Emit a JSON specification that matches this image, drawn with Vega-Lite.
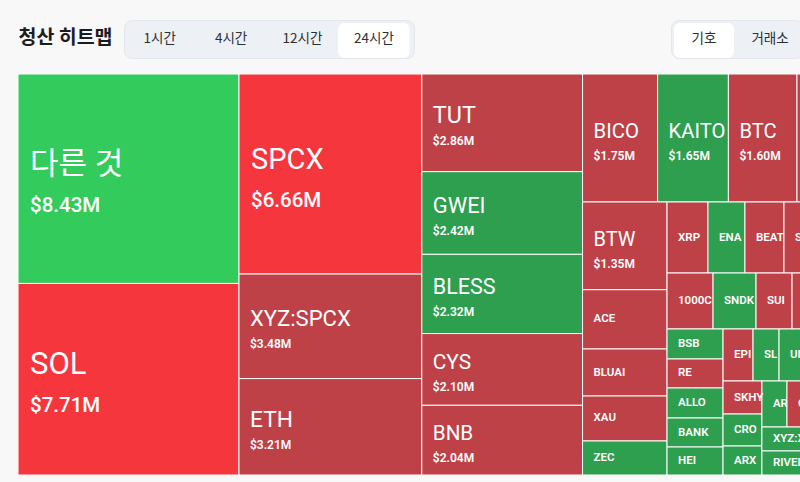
{
  "$schema": "https://vega.github.io/schema/vega-lite/v6.json",
  "background": "#f8f8f9",
  "padding": {"left": 18, "top": 19, "right": 0, "bottom": 9},
  "config": {"view": {"stroke": null}, "font": "Roboto, 'Noto Sans CJK KR', sans-serif"},
  "spacing": 15,
  "vconcat": [
    {
      "spacing": 255,
      "hconcat": [
        {
          "spacing": 10,
          "hconcat": [
            {
              "width": 95,
              "height": 38,
              "data": {"values": [{"title": "청산 히트맵"}]},
              "mark": {"type": "text", "font": "'Noto Sans CJK KR', sans-serif", "fontWeight": "bold", "fontSize": 19.5, "color": "#1c1c1f", "dy": -1.5},
              "encoding": {"text": {"field": "title"}}
            },
            {
              "width": 290,
              "height": 38,
              "view": {"fill": "#edf0f4", "cornerRadius": 8, "stroke": "#e3e6eb"},
              "data": {"values": [
                {"label": "1시간", "active": false},
                {"label": "4시간", "active": false},
                {"label": "12시간", "active": false},
                {"label": "24시간", "active": true}
              ]},
              "encoding": {
                "x": {"field": "label", "type": "nominal", "sort": null, "scale": {"domain": ["1시간", "4시간", "12시간", "24시간"], "paddingInner": 0, "paddingOuter": 0.031, "align": 0}, "axis": null}
              },
              "layer": [
                {
                  "transform": [{"filter": "datum.active"}],
                  "mark": {"type": "rect", "fill": "#ffffff", "cornerRadius": 6, "yOffset": 3, "y2Offset": -3}
                },
                {
                  "mark": {"type": "text", "font": "'Noto Sans CJK KR', sans-serif", "fontSize": 13.5, "color": "#2b2f36"},
                  "encoding": {"text": {"field": "label"}}
                }
              ]
            }
          ]
        },
        {
          "width": 132,
          "height": 38,
          "view": {"fill": "#edf0f4", "cornerRadius": 8, "stroke": "#e3e6eb"},
          "data": {"values": [
            {"label": "기호", "active": true},
            {"label": "거래소", "active": false}
          ]},
          "encoding": {
            "x": {"field": "label", "type": "nominal", "sort": null, "scale": {"domain": ["기호", "거래소"], "paddingInner": 0.09, "paddingOuter": 0.045}, "axis": null}
          },
          "layer": [
            {
              "transform": [{"filter": "datum.active"}],
              "mark": {"type": "rect", "fill": "#ffffff", "cornerRadius": 6, "yOffset": 3, "y2Offset": -3}
            },
            {
              "mark": {"type": "text", "font": "'Noto Sans CJK KR', sans-serif", "fontSize": 13.5, "color": "#2b2f36"},
              "encoding": {"text": {"field": "label"}}
            }
          ]
        }
      ]
    },
    {
      "width": 782,
      "height": 401,
      "data": {"values": [
        {"name": "다른 것", "value": 8.43, "tone": "strong-up", "x0": 0, "x1": 16.14, "y0": 0, "y1": 0.5223},
        {"name": "SOL", "value": 7.71, "tone": "strong-down", "x0": 0, "x1": 16.14, "y0": 0.5223, "y1": 1},
        {"name": "SPCX", "value": 6.66, "tone": "strong-down", "x0": 16.14, "x1": 29.49, "y0": 0, "y1": 0.4989},
        {"name": "XYZ:SPCX", "value": 3.48, "tone": "down", "x0": 16.14, "x1": 29.49, "y0": 0.4989, "y1": 0.7596},
        {"name": "ETH", "value": 3.21, "tone": "down", "x0": 16.14, "x1": 29.49, "y0": 0.7596, "y1": 1},
        {"name": "TUT", "value": 2.86, "tone": "down", "x0": 29.49, "x1": 41.23, "y0": 0, "y1": 0.2436},
        {"name": "GWEI", "value": 2.42, "tone": "up", "x0": 29.49, "x1": 41.23, "y0": 0.2436, "y1": 0.4497},
        {"name": "BLESS", "value": 2.32, "tone": "up", "x0": 29.49, "x1": 41.23, "y0": 0.4497, "y1": 0.6473},
        {"name": "CYS", "value": 2.10, "tone": "down", "x0": 29.49, "x1": 41.23, "y0": 0.6473, "y1": 0.8262},
        {"name": "BNB", "value": 2.04, "tone": "down", "x0": 29.49, "x1": 41.23, "y0": 0.8262, "y1": 1},
        {"name": "BICO", "value": 1.75, "tone": "down", "x0": 41.23, "x1": 46.71, "y0": 0, "y1": 0.3192},
        {"name": "KAITO", "value": 1.65, "tone": "up", "x0": 46.71, "x1": 51.88, "y0": 0, "y1": 0.3192},
        {"name": "BTC", "value": 1.60, "tone": "down", "x0": 51.88, "x1": 56.89, "y0": 0, "y1": 0.3192},
        {"name": "HYPE", "value": 1.55, "tone": "down", "x0": 56.89, "x1": 61.75, "y0": 0, "y1": 0.3192},
        {"name": "BTW", "value": 1.35, "tone": "down", "x0": 41.23, "x1": 47.40, "y0": 0.3192, "y1": 0.5380},
        {"name": "ACE", "value": 0.91, "tone": "down", "x0": 41.23, "x1": 47.40, "y0": 0.5380, "y1": 0.6858},
        {"name": "BLUAI", "value": 0.72, "tone": "down", "x0": 41.23, "x1": 47.40, "y0": 0.6858, "y1": 0.8030},
        {"name": "XAU", "value": 0.69, "tone": "down", "x0": 41.23, "x1": 47.40, "y0": 0.8030, "y1": 0.9152},
        {"name": "ZEC", "value": 0.52, "tone": "up", "x0": 41.23, "x1": 47.40, "y0": 0.9152, "y1": 1},
        {"name": "XRP", "value": 0.53, "tone": "down", "x0": 47.40, "x1": 50.39, "y0": 0.3192, "y1": 0.4963},
        {"name": "ENA", "value": 0.48, "tone": "up", "x0": 50.39, "x1": 53.09, "y0": 0.3192, "y1": 0.4963},
        {"name": "BEAT", "value": 0.50, "tone": "down", "x0": 53.09, "x1": 55.94, "y0": 0.3192, "y1": 0.4963},
        {"name": "SEI", "value": 0.49, "tone": "down", "x0": 55.94, "x1": 58.70, "y0": 0.3192, "y1": 0.4963},
        {"name": "1000CAT", "value": 0.47, "tone": "down", "x0": 47.40, "x1": 50.76, "y0": 0.4963, "y1": 0.6359},
        {"name": "SNDK", "value": 0.44, "tone": "up", "x0": 50.76, "x1": 53.90, "y0": 0.4963, "y1": 0.6359},
        {"name": "SUI", "value": 0.37, "tone": "down", "x0": 53.90, "x1": 56.53, "y0": 0.4963, "y1": 0.6359},
        {"name": "DOGE", "value": 0.36, "tone": "down", "x0": 56.53, "x1": 59.10, "y0": 0.4963, "y1": 0.6359},
        {"name": "BSB", "value": 0.31, "tone": "up", "x0": 47.40, "x1": 51.49, "y0": 0.6359, "y1": 0.7107},
        {"name": "RE", "value": 0.30, "tone": "down", "x0": 47.40, "x1": 51.49, "y0": 0.7107, "y1": 0.7830},
        {"name": "ALLO", "value": 0.31, "tone": "up", "x0": 47.40, "x1": 51.49, "y0": 0.7830, "y1": 0.8579},
        {"name": "BANK", "value": 0.30, "tone": "up", "x0": 47.40, "x1": 51.49, "y0": 0.8579, "y1": 0.9302},
        {"name": "HEI", "value": 0.29, "tone": "up", "x0": 47.40, "x1": 51.49, "y0": 0.9302, "y1": 1},
        {"name": "EPIC", "value": 0.28, "tone": "down", "x0": 51.49, "x1": 53.68, "y0": 0.6359, "y1": 0.7656},
        {"name": "SLX", "value": 0.25, "tone": "up", "x0": 53.68, "x1": 55.58, "y0": 0.6359, "y1": 0.7656},
        {"name": "UNI", "value": 0.26, "tone": "up", "x0": 55.58, "x1": 57.60, "y0": 0.6359, "y1": 0.7656},
        {"name": "SKHY", "value": 0.23, "tone": "down", "x0": 51.49, "x1": 54.33, "y0": 0.7656, "y1": 0.8479},
        {"name": "CRO", "value": 0.23, "tone": "up", "x0": 51.49, "x1": 54.33, "y0": 0.8479, "y1": 0.9277},
        {"name": "ARX", "value": 0.21, "tone": "up", "x0": 51.49, "x1": 54.33, "y0": 0.9277, "y1": 1},
        {"name": "ARB", "value": 0.21, "tone": "up", "x0": 54.33, "x1": 56.16, "y0": 0.7656, "y1": 0.8803},
        {"name": "COAI", "value": 0.20, "tone": "down", "x0": 56.16, "x1": 57.90, "y0": 0.7656, "y1": 0.8803},
        {"name": "XYZ:XYZ100", "value": 0.22, "tone": "up", "x0": 54.33, "x1": 58.00, "y0": 0.8803, "y1": 0.9401},
        {"name": "RIVER", "value": 0.21, "tone": "up", "x0": 54.33, "x1": 58.00, "y0": 0.9401, "y1": 1}
      ]},
      "transform": [
        {"calculate": "(datum.y0 + datum.y1) / 2", "as": "yc"},
        {"calculate": "'$' + format(datum.value, '.2f') + 'M'", "as": "amount"}
      ],
      "resolve": {"scale": {"size": "independent"}},
      "layer": [
        {
          "mark": {"type": "rect", "stroke": "#ffffff", "strokeWidth": 1, "clip": true},
          "encoding": {
            "x": {"field": "x0", "type": "quantitative", "scale": {"domain": [0, 57.11], "nice": false, "zero": false}, "axis": null},
            "x2": {"field": "x1"},
            "y": {"field": "y0", "type": "quantitative", "scale": {"domain": [0, 1], "reverse": true, "nice": false, "zero": false}, "axis": null},
            "y2": {"field": "y1"},
            "color": {"field": "tone", "type": "nominal", "scale": {"domain": ["strong-up", "strong-down", "up", "down"], "range": ["#33cc5c", "#f5373d", "#2e9e4f", "#be4148"]}, "legend": null}
          }
        },
        {
          "transform": [{"filter": "datum.value >= 6"}],
          "mark": {"type": "text", "align": "left", "baseline": "alphabetic", "dx": 12, "dy": -5, "color": "#ffffff", "fontWeight": 400, "clip": true},
          "encoding": {
            "x": {"field": "x0", "type": "quantitative", "scale": {"domain": [0, 57.11], "nice": false, "zero": false}, "axis": null},
            "y": {"field": "yc", "type": "quantitative", "scale": {"domain": [0, 1], "reverse": true, "nice": false, "zero": false}, "axis": null},
            "text": {"field": "name"},
            "size": {"field": "value", "type": "quantitative", "scale": {"domain": [6.66, 7.71], "range": [29, 31], "clamp": true, "zero": false}, "legend": null}
          }
        },
        {
          "transform": [{"filter": "datum.value >= 6"}],
          "mark": {"type": "text", "align": "left", "baseline": "alphabetic", "dx": 12, "dy": 33, "color": "#ffffff", "fontWeight": 500, "fontSize": 20.5, "clip": true},
          "encoding": {
            "x": {"field": "x0", "type": "quantitative", "scale": {"domain": [0, 57.11], "nice": false, "zero": false}, "axis": null},
            "y": {"field": "yc", "type": "quantitative", "scale": {"domain": [0, 1], "reverse": true, "nice": false, "zero": false}, "axis": null},
            "text": {"field": "amount"}
          }
        },
        {
          "transform": [{"filter": "datum.value >= 1.3 && datum.value < 6"}],
          "mark": {"type": "text", "align": "left", "baseline": "alphabetic", "dx": 11, "dy": 0, "color": "#ffffff", "fontWeight": 400, "clip": true, "ellipsis": "\u200b", "limit": {"expr": "(datum.x1 - datum.x0) * 13.693 - 8"}},
          "encoding": {
            "x": {"field": "x0", "type": "quantitative", "scale": {"domain": [0, 57.11], "nice": false, "zero": false}, "axis": null},
            "y": {"field": "yc", "type": "quantitative", "scale": {"domain": [0, 1], "reverse": true, "nice": false, "zero": false}, "axis": null},
            "text": {"field": "name"},
            "size": {"field": "value", "type": "quantitative", "scale": {"domain": [1.35, 2.0, 2.9, 3.5], "range": [20, 20.5, 23.5, 22], "clamp": true, "zero": false}, "legend": null}
          }
        },
        {
          "transform": [{"filter": "datum.value >= 1.3 && datum.value < 6"}],
          "mark": {"type": "text", "align": "left", "baseline": "alphabetic", "dx": 11, "dy": 22, "color": "#ffffff", "fontWeight": 600, "fontSize": 12, "clip": true},
          "encoding": {
            "x": {"field": "x0", "type": "quantitative", "scale": {"domain": [0, 57.11], "nice": false, "zero": false}, "axis": null},
            "y": {"field": "yc", "type": "quantitative", "scale": {"domain": [0, 1], "reverse": true, "nice": false, "zero": false}, "axis": null},
            "text": {"field": "amount"}
          }
        },
        {
          "transform": [{"filter": "datum.value < 1.3"}],
          "mark": {"type": "text", "align": "left", "baseline": "middle", "dx": 11, "color": "#ffffff", "fontWeight": 600, "fontSize": 11.5, "clip": true, "ellipsis": "\u200b", "limit": {"expr": "max(1, (datum.x1 - datum.x0) * 13.693 - 8)"}},
          "encoding": {
            "x": {"field": "x0", "type": "quantitative", "scale": {"domain": [0, 57.11], "nice": false, "zero": false}, "axis": null},
            "y": {"field": "yc", "type": "quantitative", "scale": {"domain": [0, 1], "reverse": true, "nice": false, "zero": false}, "axis": null},
            "text": {"field": "name"}
          }
        }
      ]
    }
  ]
}
